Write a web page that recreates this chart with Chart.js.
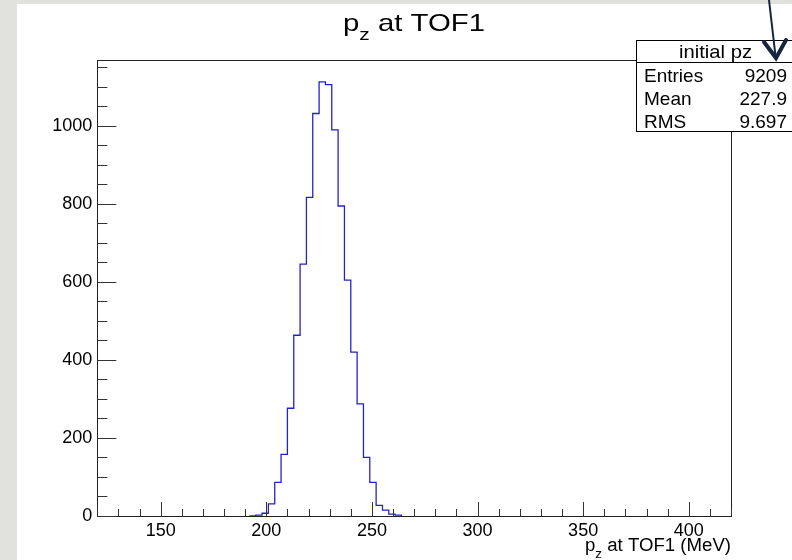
<!DOCTYPE html>
<html>
<head>
<meta charset="utf-8">
<title>p_z at TOF1</title>
<script src="https://cdn.jsdelivr.net/npm/chart.js@4.4.1/dist/chart.umd.min.js"></script>
<style>
  html, body { margin: 0; padding: 0; background: #e1e1dd; }
  #wrap { position: absolute; left: 0; top: 0; width: 792px; height: 560px; }
</style>
</head>
<body>
<div id="wrap"><canvas id="histo" width="792" height="560"></canvas></div>
<script>
// --- histogram data (3 MeV bins, lower edges + closing edge) ---
const binEdges = [192, 195, 198, 201, 204, 207, 210, 213, 216, 219, 222, 225, 228,
                  231, 234, 237, 240, 243, 246, 249, 252, 255, 258, 261, 264];
const binCounts = [0, 2, 7, 31, 86, 158, 276, 463, 645, 816, 1031, 1112, 1105,
                   989, 794, 604, 420, 287, 150, 86, 27, 15, 5, 2, 0];

// --- axes ---
const xTicks = [150, 200, 250, 300, 350, 400];
const yTicks = [0, 200, 400, 600, 800, 1000];
const xRange = [120, 420];
const yRange = [0, 1168];
const xMinorStep = 10;
const yMinorStep = 50;

// --- stats box ---
const statsName = "initial pz";
const statsLabels = ["Entries", "Mean", "RMS"];
const statsValues = ["9209", "227.9", "9.697"];

const FONT = "'Liberation Sans', Arial, Helvetica, sans-serif";

// draw text stretched horizontally to fit a given width
function fitText(ctx, parts, left, baseline, width) {
  // parts: [{t, size, dy}]
  let w = 0;
  parts.forEach(p => { ctx.font = p.size + "px " + FONT; w += ctx.measureText(p.t).width; });
  const sx = width / w;
  ctx.save();
  ctx.translate(left, baseline);
  ctx.scale(sx, 1);
  let x = 0;
  parts.forEach(p => {
    ctx.font = p.size + "px " + FONT;
    ctx.fillText(p.t, x, p.dy || 0);
    x += ctx.measureText(p.t).width;
  });
  ctx.restore();
}

const rootFrame = {
  id: 'rootFrame',
  beforeDraw(chart) {
    const { ctx, width, height } = chart;
    ctx.save();
    ctx.fillStyle = '#e1e1dd';
    ctx.fillRect(0, 0, width, height);
    ctx.fillStyle = '#ffffff';
    ctx.fillRect(17, 4, width - 17, height - 4);
    ctx.restore();
  },
  afterDatasetsDraw(chart) {
    const { ctx, chartArea: a, scales } = chart;
    const xs = scales.x, ys = scales.y;
    ctx.save();
    ctx.strokeStyle = '#222';
    ctx.lineWidth = 1;
    ctx.strokeRect(Math.round(a.left) + 0.5, Math.round(a.top) + 0.5,
                   Math.round(a.right - a.left), Math.round(a.bottom - a.top));
    // tick marks drawn inside the frame, ROOT style
    ctx.strokeStyle = '#333';
    ctx.beginPath();
    for (let v = Math.ceil(xRange[0] / xMinorStep) * xMinorStep; v <= xRange[1]; v += xMinorStep) {
      const px = Math.round(xs.getPixelForValue(v)) + 0.5;
      const len = xTicks.includes(v) ? 14 : 7;
      ctx.moveTo(px, a.bottom);
      ctx.lineTo(px, a.bottom - len);
    }
    for (let v = yRange[0]; v <= yRange[1]; v += yMinorStep) {
      const py = Math.round(ys.getPixelForValue(v)) + 0.5;
      const len = yTicks.includes(v) ? 19 : 10;
      ctx.moveTo(a.left, py);
      ctx.lineTo(a.left + len, py);
    }
    ctx.stroke();
    ctx.restore();
  },
  afterDraw(chart) {
    const { ctx } = chart;
    ctx.save();
    ctx.fillStyle = '#000';
    ctx.textBaseline = 'alphabetic';
    // title
    fitText(ctx, [{ t: 'p', size: 24 }, { t: 'z', size: 17, dy: 9 }, { t: ' at TOF1', size: 24 }], 343, 31, 142);
    // x axis title
    fitText(ctx, [{ t: 'p', size: 18 }, { t: 'z', size: 13, dy: 7 }, { t: ' at TOF1 (MeV)', size: 18 }], 585, 551, 146);

    // stats box
    const bx = 636.5, by = 40.5, bw = 170, bh = 91;
    ctx.fillStyle = '#fff';
    ctx.fillRect(bx, by, bw, bh);
    ctx.strokeStyle = '#000';
    ctx.lineWidth = 1;
    ctx.strokeRect(bx, by, bw, bh);
    ctx.beginPath();
    ctx.moveTo(bx, 62.5);
    ctx.lineTo(bx + bw, 62.5);
    ctx.stroke();
    ctx.fillStyle = '#000';
    fitText(ctx, [{ t: statsName, size: 19 }], 679, 58, 73);
    ctx.font = '19px ' + FONT;
    const rowBase = [82, 105, 128];
    statsLabels.forEach((lab, i) => {
      ctx.textAlign = 'left';
      ctx.fillText(lab, 644, rowBase[i]);
      ctx.textAlign = 'right';
      ctx.fillText(statsValues[i], 787, rowBase[i]);
    });

    // annotation arrow on top of the screenshot
    ctx.strokeStyle = '#17243f';
    ctx.lineCap = 'round';
    ctx.lineJoin = 'miter';
    ctx.lineWidth = 2;
    ctx.beginPath();
    ctx.moveTo(769, 0);
    ctx.lineTo(775.5, 56);
    ctx.stroke();
    ctx.lineWidth = 4;
    ctx.beginPath();
    ctx.moveTo(764, 42);
    ctx.lineTo(776, 58);
    ctx.lineTo(786, 40);
    ctx.stroke();
    ctx.restore();
  }
};

const points = binEdges.map((x, i) => ({ x: x, y: binCounts[i] }));

new Chart(document.getElementById('histo'), {
  type: 'line',
  data: {
    datasets: [{
      data: points,
      stepped: true,
      borderColor: '#2323c4',
      borderWidth: 1.3,
      pointRadius: 0,
      fill: false
    }]
  },
  options: {
    responsive: false,
    animation: false,
    layout: { padding: { left: 17, top: 60, right: 61, bottom: 0 } },
    plugins: {
      legend: { display: false },
      title: { display: false },
      tooltip: { enabled: false }
    },
    scales: {
      x: {
        type: 'linear',
        min: xRange[0],
        max: xRange[1],
        afterBuildTicks: s => { s.ticks = xTicks.map(v => ({ value: v })); },
        afterFit: s => { s.height = 44; },
        grid: { display: false, drawTicks: false },
        border: { display: false },
        ticks: { padding: 4, color: '#000', maxRotation: 0, callback: v => String(v),
                 font: { family: FONT, size: 18 } }
      },
      y: {
        type: 'linear',
        min: yRange[0],
        max: yRange[1],
        afterBuildTicks: s => { s.ticks = yTicks.map(v => ({ value: v })); },
        afterFit: s => { s.width = 80.3; },
        grid: { display: false, drawTicks: false },
        border: { display: false },
        ticks: { padding: 5, color: '#000', callback: v => String(v),
                 font: { family: FONT, size: 18 } }
      }
    }
  },
  plugins: [rootFrame]
});
</script>
</body>
</html>
